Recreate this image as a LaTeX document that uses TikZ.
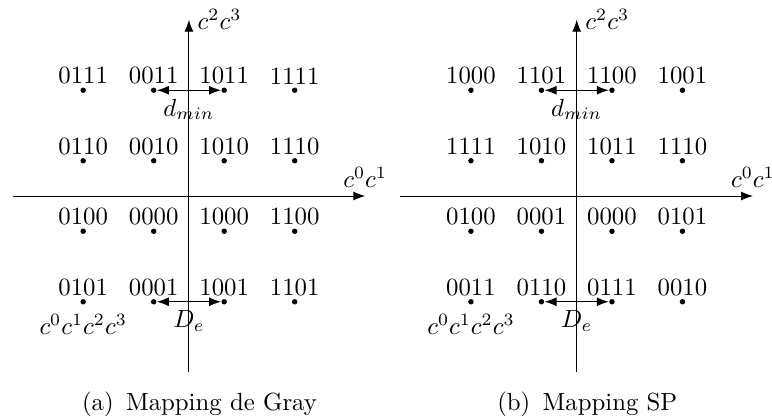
\documentclass[tikz,border=0pt]{standalone}
\usepackage{amsmath}
\usepackage{tikz}
\usetikzlibrary{arrows.meta,positioning}

\begin{document}
\begin{tikzpicture}[
      every label/.style={inner sep=1pt},
      pt/.style={circle,fill=black,inner sep=0pt,minimum size=2.2pt},
      bits/.style={label={[inner sep=3.6pt]below:$c^0c^1c^2c^3$}},
      axis/.style={-{Latex}},
      dist/.style={{Latex}-{Latex}}
    ]
    \useasboundingbox (-2.68,-3.16) rectangle (8.27,2.78);
    % (a) Gray
    \coordinate (gxl) at (-2.5,0);
    \coordinate (gxr) at (2.5,0);
    \coordinate (gyb) at (0,-2.5);
    \coordinate (gyt) at (0,2.5);
    \draw[axis] (gxl) -- (gxr) node[above] {$c^0c^1$};
    \draw[axis] (gyb) -- (gyt) node[right] {$c^2c^3$};
    \node[pt,label=above:0111] (g0111) at (-1.5,1.5) {};
    \node[pt,label=above:0011] (g0011) at (-0.5,1.5) {};
    \node[pt,label=above:1011] (g1011) at (0.5,1.5) {};
    \node[pt,label=above:1111] (g1111) at (1.5,1.5) {};
    \node[pt,label=above:0110] (g0110) at (-1.5,0.5) {};
    \node[pt,label=above:0010] (g0010) at (-0.5,0.5) {};
    \node[pt,label=above:1010] (g1010) at (0.5,0.5) {};
    \node[pt,label=above:1110] (g1110) at (1.5,0.5) {};
    \node[pt,label=above:0100] (g0100) at (-1.5,-0.5) {};
    \node[pt,label=above:0000] (g0000) at (-0.5,-0.5) {};
    \node[pt,label=above:1000] (g1000) at (0.5,-0.5) {};
    \node[pt,label=above:1100] (g1100) at (1.5,-0.5) {};
    \node[pt,bits,label=above:0101] (g0101) at (-1.5,-1.5) {};
    \node[pt,label=above:0001] (g0001) at (-0.5,-1.5) {};
    \node[pt,label=above:1001] (g1001) at (0.5,-1.5) {};
    \node[pt,label=above:1101] (g1101) at (1.5,-1.5) {};
    \draw[dist] (g0011) -- node[below] {$d_{min}$} (g1011);
    \draw[dist] (g0001) -- node[below] {$D_e$} (g1001);
    \node (capa) at (0.15,-2.95) {(a)\enspace Mapping de Gray};
    % (b) SP
    \coordinate (sxl) at (3,0);
    \coordinate (sxr) at (8,0);
    \coordinate (syb) at (5.5,-2.5);
    \coordinate (syt) at (5.5,2.5);
    \draw[axis] (sxl) -- (sxr) node[above] {$c^0c^1$};
    \draw[axis] (syb) -- (syt) node[right] {$c^2c^3$};
    \node[pt,label=above:1000] (s1000) at (4,1.5) {};
    \node[pt,label=above:1101] (s1101) at (5,1.5) {};
    \node[pt,label=above:1100] (s1100) at (6,1.5) {};
    \node[pt,label=above:1001] (s1001) at (7,1.5) {};
    \node[pt,label=above:1111] (s1111) at (4,0.5) {};
    \node[pt,label=above:1010] (s1010) at (5,0.5) {};
    \node[pt,label=above:1011] (s1011) at (6,0.5) {};
    \node[pt,label=above:1110] (s1110) at (7,0.5) {};
    \node[pt,label=above:0100] (s0100) at (4,-0.5) {};
    \node[pt,label=above:0001] (s0001) at (5,-0.5) {};
    \node[pt,label=above:0000] (s0000) at (6,-0.5) {};
    \node[pt,label=above:0101] (s0101) at (7,-0.5) {};
    \node[pt,bits,label=above:0011] (s0011) at (4,-1.5) {};
    \node[pt,label=above:0110] (s0110) at (5,-1.5) {};
    \node[pt,label=above:0111] (s0111) at (6,-1.5) {};
    \node[pt,label=above:0010] (s0010) at (7,-1.5) {};
    \draw[dist] (s1101) -- node[below] {$d_{min}$} (s1100);
    \draw[dist] (s0110) -- node[below] {$D_e$} (s0111);
    \node (capb) at (5.65,-2.95) {(b)\enspace Mapping SP};
  \end{tikzpicture}
\end{document}
